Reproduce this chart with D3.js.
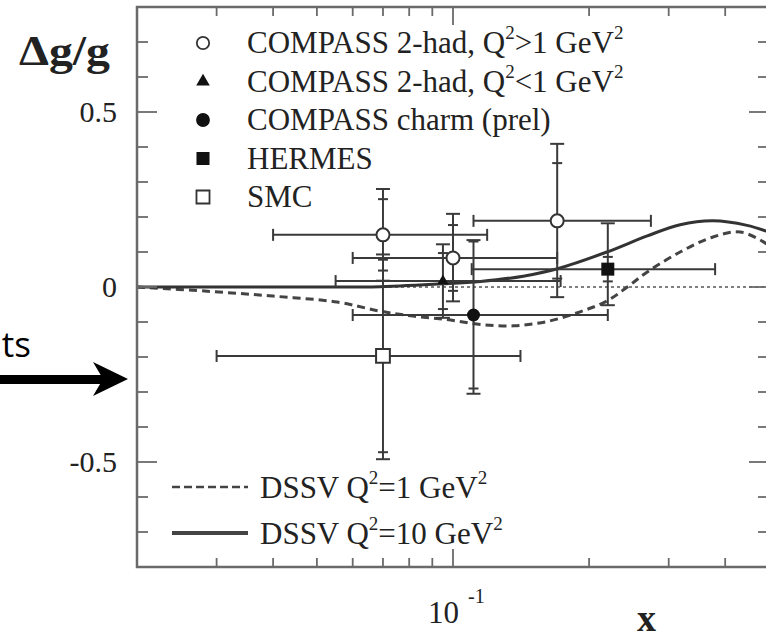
<!DOCTYPE html>
<html>
<head>
<meta charset="utf-8">
<script src="https://cdn.jsdelivr.net/npm/d3@7"></script>
<style>
body { margin: 0; background: #fff; }
svg { display: block; font-family: "Liberation Serif", "Times New Roman", serif; }
</style>
</head>
<body>
<div id="chart"></div>
<script>
/* ticks */
var xMajorTicks = [0.1],
    xMinorTicks = [0.03, 0.04, 0.05, 0.06, 0.07, 0.08, 0.09, 0.2, 0.3, 0.4],
    yMajorTicks = [-0.5, 0, 0.5],
    yMinorTicks = [-0.7, -0.6, -0.4, -0.3, -0.2, -0.1, 0.1, 0.2, 0.3, 0.4, 0.6, 0.7],
    yTickLabels = ["-0.5", "0", "0.5"];

/* measurements: [x, y, xLo, xHi, statDown, statUp, totDown, totUp] */
var compassHigh = [
        [0.070, 0.149, 0.040, 0.119, 0.102, 0.102, 0.131, 0.131],
        [0.100, 0.083, 0.060, 0.170, 0.094, 0.094, 0.124, 0.126],
        [0.170, 0.189, 0.111, 0.274, 0.165, 0.165, 0.218, 0.220]
    ],
    compassLow = [
        [0.095, 0.017, 0.055, 0.173, 0.080, 0.080, 0.105, 0.105]
    ],
    compassCharm = [
        [0.111, -0.080, 0.060, 0.220, 0.210, 0.210, 0.225, 0.214]
    ],
    hermes = [
        [0.220, 0.051, 0.110, 0.380, 0.035, 0.035, 0.103, 0.131]
    ],
    smc = [
        [0.070, -0.197, 0.030, 0.141, 0.275, 0.275, 0.295, 0.290]
    ];

/* DSSV curves */
var dssv1X = [0.02, 0.0286, 0.040, 0.0554, 0.069, 0.0816, 0.097, 0.115, 0.136, 0.161, 0.191, 0.219, 0.243, 0.269, 0.318, 0.376, 0.432, 0.486, 0.5],
    dssv1Y = [0.0, -0.012, -0.026, -0.043, -0.069, -0.083, -0.093, -0.107, -0.111, -0.099, -0.071, -0.040, 0.0, 0.043, 0.100, 0.143, 0.157, 0.129, 0.118],
    dssv10X = [0.02, 0.046, 0.069, 0.0952, 0.115, 0.143, 0.171, 0.219, 0.269, 0.318, 0.376, 0.447, 0.5],
    dssv10Y = [0.0, 0.0, 0.001, 0.009, 0.016, 0.031, 0.053, 0.100, 0.146, 0.178, 0.189, 0.176, 0.157];

/* layout */
var width = 766,
    height = 638,
    plot = { left: 137, right: 769, top: 7, bottom: 567 },
    ink = "#333",
    frameCol = "#6a6a6a",
    textCol = "#222";

var svg = d3.select("#chart")
    .append("svg")
    .attr("width", width)
    .attr("height", height);

var x = d3.scaleLog()
        .domain([0.02, 0.5])
        .range([plot.left, plot.right]),
    y = d3.scaleLinear()
        .domain([-0.8, 0.8])
        .range([plot.bottom, plot.top]);

/* zero line */
svg.append("line")
    .attr("x1", plot.left)
    .attr("x2", plot.right)
    .attr("y1", y(0))
    .attr("y2", y(0))
    .attr("stroke", "#555")
    .attr("stroke-width", 1.3)
    .attr("stroke-dasharray", "3,3");

/* curves */
var line = d3.line()
    .x(d => x(d[0]))
    .y(d => y(d[1]))
    .curve(d3.curveCatmullRom);

svg.append("path")
    .datum(d3.zip(dssv1X, dssv1Y))
    .attr("d", line)
    .attr("fill", "none")
    .attr("stroke", "#444")
    .attr("stroke-width", 3)
    .attr("stroke-dasharray", "8,5");

svg.append("path")
    .datum(d3.zip(dssv10X, dssv10Y))
    .attr("d", line)
    .attr("fill", "none")
    .attr("stroke", ink)
    .attr("stroke-width", 3);

/* error bars */
var bars = svg.append("g")
    .attr("stroke", "#3a3a3a")
    .attr("stroke-width", 2)
    .attr("fill", "none");

function errorBars(data) {
    data.forEach(function (d) {
        var px = x(d[0]), py = y(d[1]);
        // horizontal
        bars.append("line")
            .attr("x1", x(d[2])).attr("x2", x(d[3]))
            .attr("y1", py).attr("y2", py);
        [d[2], d[3]].forEach(function (v) {
            bars.append("line")
                .attr("x1", x(v)).attr("x2", x(v))
                .attr("y1", py - 6).attr("y2", py + 6);
        });
        // vertical
        bars.append("line")
            .attr("x1", px).attr("x2", px)
            .attr("y1", y(d[1] - d[6])).attr("y2", y(d[1] + d[7]));
        [[d[1] - d[6], 7], [d[1] + d[7], 7], [d[1] - d[4], 5], [d[1] + d[5], 5]].forEach(function (c) {
            bars.append("line")
                .attr("x1", px - c[1]).attr("x2", px + c[1])
                .attr("y1", y(c[0])).attr("y2", y(c[0]));
        });
    });
}

[compassHigh, compassLow, compassCharm, hermes, smc].forEach(errorBars);

/* markers */
var series = [
    { data: compassHigh, type: d3.symbolCircle, size: 133, open: true, lgdSize: 120 },
    { data: compassLow, type: d3.symbolTriangle, size: 55, open: false, lgdSize: 80 },
    { data: compassCharm, type: d3.symbolCircle, size: 133, open: false, lgdSize: 150 },
    { data: hermes, type: d3.symbolSquare, size: 169, open: false, lgdSize: 170 },
    { data: smc, type: d3.symbolSquare, size: 190, open: true, lgdSize: 170 }
];

var marks = svg.append("g");
series.forEach(function (s) {
    marks.selectAll(null)
        .data(s.data)
        .enter()
        .append("path")
        .attr("transform", d => "translate(" + x(d[0]) + "," + y(d[1]) + ")")
        .attr("d", d3.symbol().type(s.type).size(s.size))
        .attr("fill", s.open ? "#fff" : "#111")
        .attr("stroke", s.open ? ink : "none")
        .attr("stroke-width", 2);
});

/* frame and ticks */
var frame = svg.append("g")
    .attr("stroke", frameCol)
    .attr("fill", "none");

frame.append("rect")
    .attr("x", plot.left)
    .attr("y", plot.top)
    .attr("width", plot.right - plot.left)
    .attr("height", plot.bottom - plot.top)
    .attr("stroke-width", 2.5);

function xTick(v, len) {
    frame.append("line")
        .attr("x1", x(v)).attr("x2", x(v))
        .attr("y1", plot.bottom).attr("y2", plot.bottom - len)
        .attr("stroke-width", 1.8);
    frame.append("line")
        .attr("x1", x(v)).attr("x2", x(v))
        .attr("y1", plot.top).attr("y2", plot.top + len)
        .attr("stroke-width", 1.8);
}
function yTick(v, len) {
    frame.append("line")
        .attr("x1", plot.left).attr("x2", plot.left + len)
        .attr("y1", y(v)).attr("y2", y(v))
        .attr("stroke-width", 1.8);
    frame.append("line")
        .attr("x1", plot.right).attr("x2", plot.right - len)
        .attr("y1", y(v)).attr("y2", y(v))
        .attr("stroke-width", 1.8);
}
xMinorTicks.forEach(v => xTick(v, 9));
xMajorTicks.forEach(v => xTick(v, 18));
yMinorTicks.forEach(v => yTick(v, 11));
yMajorTicks.forEach(v => yTick(v, 20));

/* tick labels */
svg.append("g")
    .selectAll("text")
    .data(yMajorTicks)
    .enter()
    .append("text")
    .attr("x", 117)
    .attr("y", d => y(d) + 10)
    .attr("text-anchor", "end")
    .attr("font-size", 30)
    .attr("fill", textCol)
    .text((d, i) => yTickLabels[i]);

var xLbl = svg.append("text")
    .attr("x", x(xMajorTicks[0]) - 25)
    .attr("y", 623)
    .attr("font-size", 31)
    .attr("fill", textCol);
xLbl.append("tspan").text("10");
xLbl.append("tspan").attr("dx", 9).attr("dy", -20).attr("font-size", 20).text("-1");

svg.append("text")
    .attr("x", 637)
    .attr("y", 631)
    .attr("font-size", 38)
    .attr("font-weight", "bold")
    .attr("fill", textCol)
    .text("x");

svg.append("text")
    .attr("x", 19)
    .attr("y", 65)
    .attr("font-size", 42)
    .attr("font-weight", "bold")
    .attr("fill", textCol)
    .attr("textLength", 91)
    .attr("lengthAdjust", "spacingAndGlyphs")
    .text("\u0394g/g");

/* legend */
var lgdLabels = [
        [["COMPASS 2-had, Q"], ["2", 1], [">1 GeV"], ["2", 1]],
        [["COMPASS 2-had, Q"], ["2", 1], ["<1 GeV"], ["2", 1]],
        [["COMPASS charm (prel)"]],
        [["HERMES"]],
        [["SMC"]]
    ],
    lineLabels = [
        [["DSSV Q"], ["2", 1], ["=1 GeV"], ["2", 1]],
        [["DSSV Q"], ["2", 1], ["=10 GeV"], ["2", 1]]
    ];

function richText(g, parts, tx, ty) {
    var t = g.append("text")
        .attr("x", tx)
        .attr("y", ty)
        .attr("font-size", 31)
        .attr("fill", textCol);
    var up = false;
    parts.forEach(function (p) {
        var s = t.append("tspan").text(p[0]);
        if (p[1] && !up) { s.attr("dy", -14).attr("font-size", 19); up = true; }
        else if (!p[1] && up) { s.attr("dy", 14); up = false; }
    });
}

var lgd = svg.append("g");
series.forEach(function (s, i) {
    var ly = 43 + i * 38.5;
    lgd.append("path")
        .attr("transform", "translate(203," + ly + ")")
        .attr("d", d3.symbol().type(s.type).size(s.lgdSize))
        .attr("fill", s.open ? "#fff" : "#111")
        .attr("stroke", s.open ? ink : "none")
        .attr("stroke-width", 1.8);
    richText(lgd, lgdLabels[i], 247, ly + 10);
});

[[487, "8,4", 2.5], [533, null, 4]].forEach(function (l, i) {
    lgd.append("line")
        .attr("x1", 172).attr("x2", 248)
        .attr("y1", l[0]).attr("y2", l[0])
        .attr("stroke", "#444")
        .attr("stroke-width", l[2])
        .attr("stroke-dasharray", l[1]);
    richText(lgd, lineLabels[i], 260, l[0] + 11);
});

/* annotation on the left */
var note = svg.append("g");
note.append("text")
    .attr("x", 31)
    .attr("y", 357)
    .attr("text-anchor", "end")
    .attr("font-family", "'Open Sans', 'Noto Sans', sans-serif")
    .attr("font-size", 35)
    .attr("fill", "#000")
    .text("ts");
note.append("rect")
    .attr("x", 0)
    .attr("y", 375)
    .attr("width", 104)
    .attr("height", 9)
    .attr("fill", "#000");
note.append("path")
    .attr("d", "M93,362 L128,379 L93,396 L103,379 Z")
    .attr("fill", "#000");
</script>
</body>
</html>
